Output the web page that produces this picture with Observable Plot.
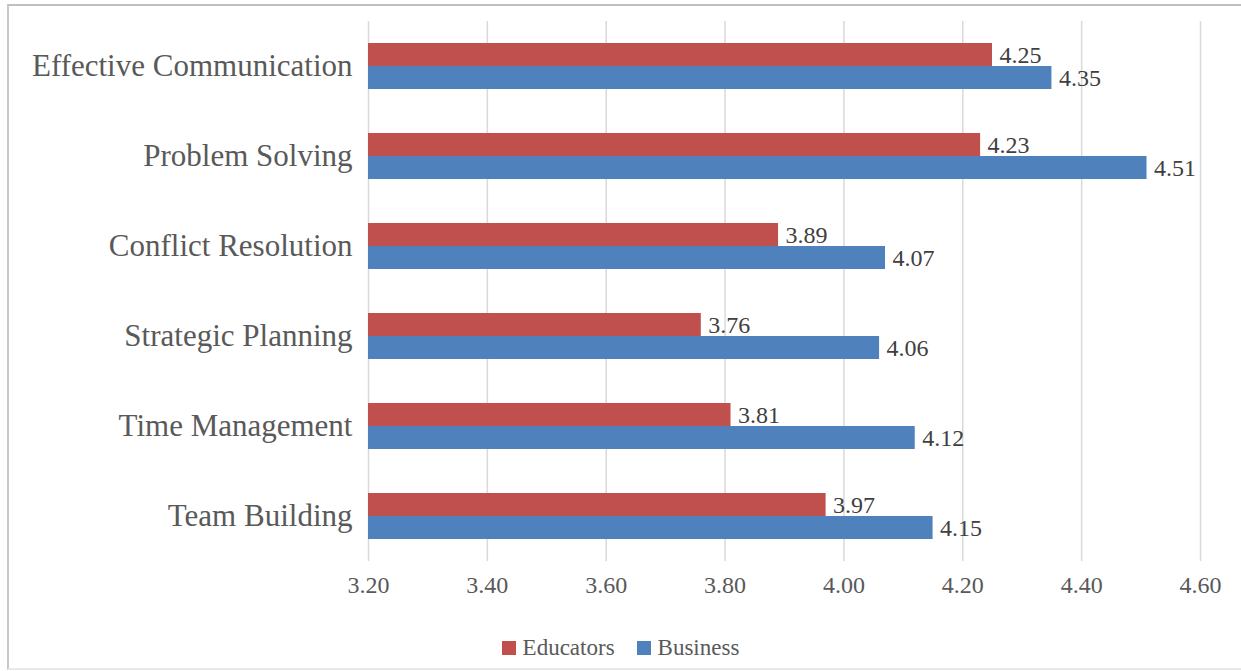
<!DOCTYPE html>
<html>
<head>
<meta charset="utf-8">
<script src="https://cdn.jsdelivr.net/npm/d3@7"></script>
<script src="https://cdn.jsdelivr.net/npm/@observablehq/plot@0.6"></script>
<style>
  html, body { margin: 0; padding: 0; background: #fff; overflow: hidden; }
  #wrap { position: relative; width: 1241px; height: 671px; overflow: hidden; font-family: "Liberation Serif", "Times New Roman", serif; }
  #frame { position: absolute; left: 7px; top: 4px; width: 1240px; height: 662px; border-top: 2px solid #c0c0c0; border-left: 2px solid #c8c8c8; border-bottom: 2px solid #e8e8e8; }
  #chart { position: absolute; left: 0; top: 0; }
  #legend { position: absolute; left: 0px; top: 636px; width: 1241px; height: 24px; display: flex; justify-content: center; align-items: center; font-size: 23px; color: #595959; }
  .item { display: flex; align-items: center; margin: 0 11px; }
  .sw { width: 14px; height: 14px; margin-right: 7px; }
</style>
</head>
<body>
<div id="wrap">
  <div id="frame"></div>
  <div id="chart"></div>
  <div id="legend"></div>
</div>
<script>
const categories = ["Effective Communication", "Problem Solving", "Conflict Resolution", "Strategic Planning", "Time Management", "Team Building"];
const series = ["Educators", "Business"];
const educators = [4.25, 4.23, 3.89, 3.76, 3.81, 3.97];
const business = [4.35, 4.51, 4.07, 4.06, 4.12, 4.15];
const xTicks = [3.2, 3.4, 3.6, 3.8, 4.0, 4.2, 4.4, 4.6];
const colors = ["#C0504D", "#4F81BD"];
const xMin = 3.2, xMax = 4.6;

const data = [];
categories.forEach((c, i) => {
  data.push({category: c, series: "Educators", value: educators[i]});
  data.push({category: c, series: "Business", value: business[i]});
});
const fmt = d3.format(".2f");
const font = "'Liberation Serif', 'Times New Roman', serif";

const chart = Plot.plot({
  width: 1241,
  height: 610,
  marginLeft: 368,
  marginRight: 41,
  marginTop: 19,
  marginBottom: 47,
  style: {fontFamily: font, color: "#595959", background: "transparent"},
  x: {domain: [xMin, xMax]},
  y: {domain: series, paddingInner: 0, paddingOuter: 0.9, axis: null},
  fy: {domain: categories, padding: 0},
  color: {domain: series, range: colors},
  marks: [
    Plot.gridX(xTicks, {stroke: "#d9d9d9", strokeOpacity: 1, strokeWidth: 1.5}),
    Plot.barX(data, {x1: () => xMin, x2: "value", y: "series", fy: "category", fill: "series"}),
    Plot.text(data, {x: "value", y: "series", fy: "category", text: d => fmt(d.value), textAnchor: "start", dx: 7, fontSize: 24, fill: "#404040"}),
    Plot.axisX({ticks: xTicks, tickFormat: fmt, tickSize: 0, tickPadding: 14, fontSize: 24, label: null}),
    Plot.axisFy({anchor: "left", tickSize: 0, tickPadding: 16, fontSize: 31, label: null})
  ]
});
document.getElementById("chart").appendChild(chart);

const legend = document.getElementById("legend");
series.forEach((s, i) => {
  const it = document.createElement("div");
  it.className = "item";
  const sw = document.createElement("div");
  sw.className = "sw";
  sw.style.background = colors[i];
  const tx = document.createElement("span");
  tx.textContent = s;
  it.appendChild(sw);
  it.appendChild(tx);
  legend.appendChild(it);
});
</script>
</body>
</html>
